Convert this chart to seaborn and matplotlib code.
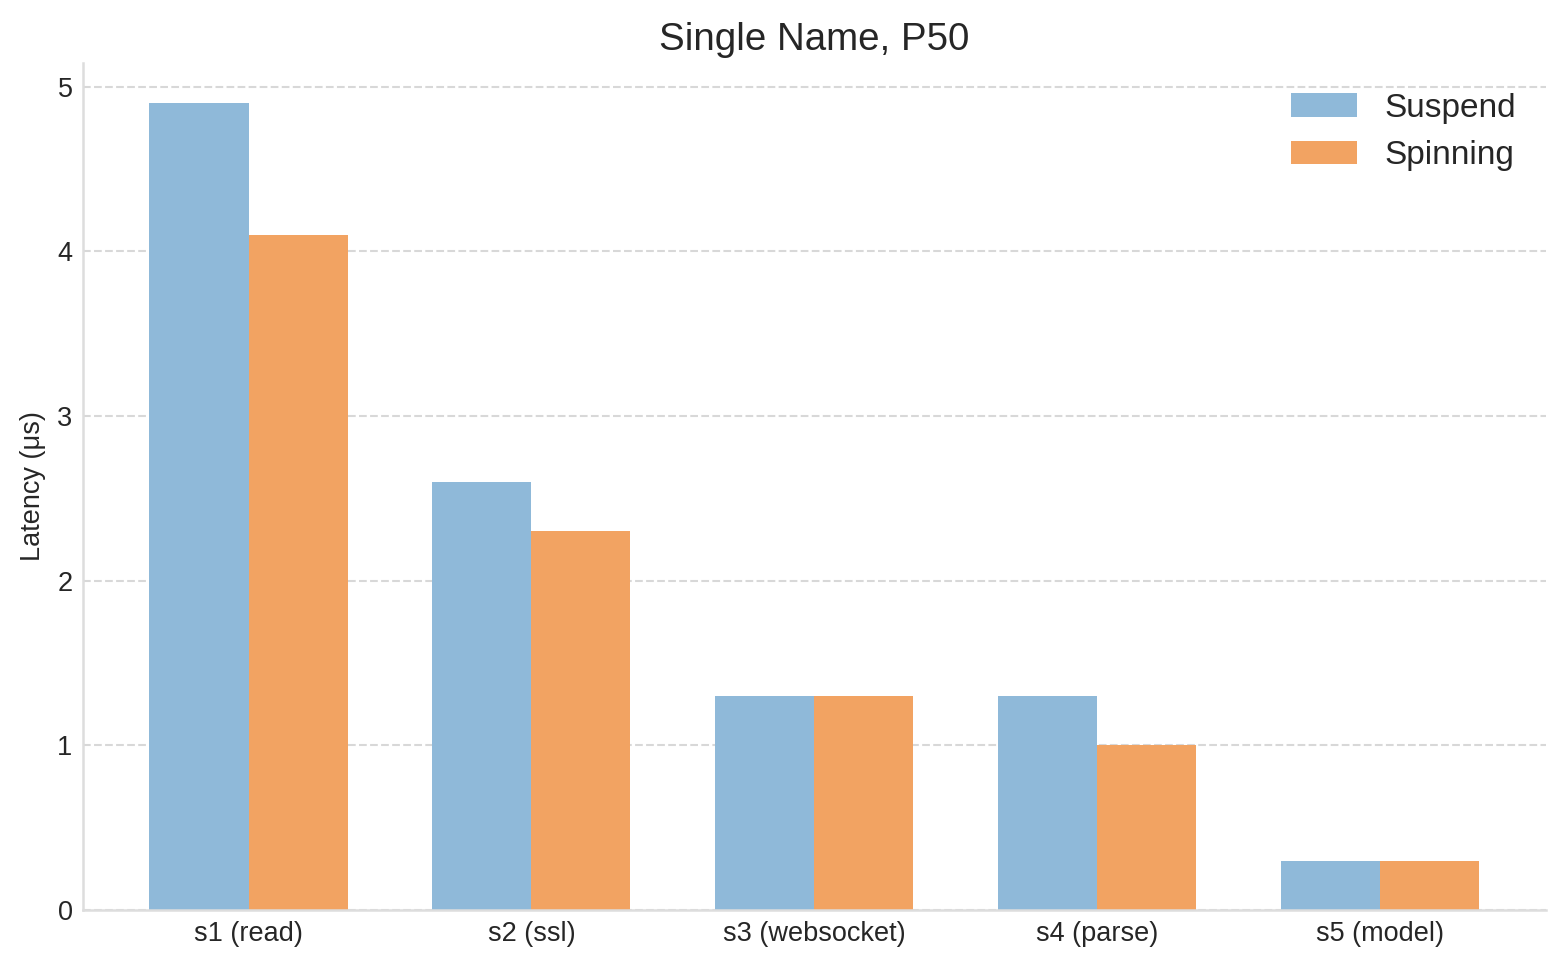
import matplotlib
matplotlib.use("Agg")
import matplotlib.pyplot as plt
import seaborn as sns
import pandas as pd

stages = ["s1 (read)", "s2 (ssl)", "s3 (websocket)", "s4 (parse)", "s5 (model)"]
suspend = [4.9, 2.6, 1.3, 1.3, 0.3]
spinning = [4.1, 2.3, 1.3, 1.0, 0.3]
series_names = ["Suspend", "Spinning"]
colors = ["#8FB9D9", "#F2A362"]

df = pd.DataFrame({
    "stage": stages * 2,
    "latency": suspend + spinning,
    "mode": [series_names[0]] * len(stages) + [series_names[1]] * len(stages),
})

sns.set_theme(style="whitegrid")
plt.rcParams["font.family"] = ["Liberation Sans", "DejaVu Sans"]

fig, ax = plt.subplots(figsize=(10.44, 6.44), dpi=150)
sns.barplot(data=df, x="stage", y="latency", hue="mode", order=stages,
            hue_order=series_names, palette=colors, width=0.7, gap=0,
            saturation=1, errorbar=None, linewidth=0, ax=ax)

# use matplotlib's default data margins instead of seaborn's categorical limits
ax.autoscale(enable=True, axis="x")
ax.margins(x=0.05)
ax.relim()
ax.autoscale_view()

ax.set_title("Single Name, P50", fontsize=18.5, color="#262626", pad=6)
ax.set_ylabel("Latency (μs)", fontsize=13, color="#262626", labelpad=5.5)
ax.set_xlabel("")
ax.tick_params(axis="both", labelsize=13, colors="#262626", length=0)
ax.tick_params(axis="x", pad=5.5)
ax.tick_params(axis="y", pad=5)
ax.grid(axis="y", linestyle="--", color="#d8d8d8", linewidth=1)
ax.grid(axis="x", visible=False)
ax.set_axisbelow(True)
for s in ["top", "right"]:
    ax.spines[s].set_visible(False)
for s in ["left", "bottom"]:
    ax.spines[s].set_color("#dddddd")
    ax.spines[s].set_linewidth(1.2)

leg = ax.legend(loc="upper right", frameon=False, fontsize=16, handlelength=2.0,
                handleheight=0.7)
leg.set_title(None)

fig.subplots_adjust(left=0.053, right=0.987, top=0.935, bottom=0.058)
fig.savefig("out.png", dpi=150)
